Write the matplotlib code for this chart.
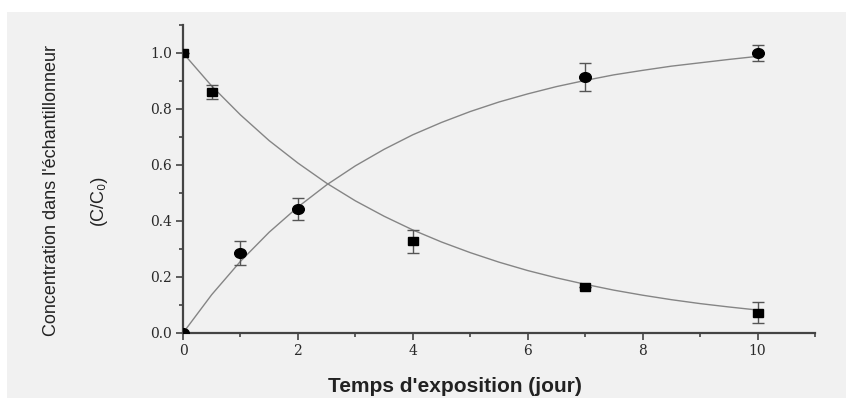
import matplotlib.pyplot as plt
from matplotlib.markers import MarkerStyle
from matplotlib.patches import Rectangle
from matplotlib.ticker import MultipleLocator
from matplotlib.transforms import Affine2D

# measured points (exposure time, C/C0, error)
t_sampler = [0, 1, 2, 7, 10]
c_sampler = [0.0, 0.286, 0.443, 0.916, 1.0]
e_sampler = [0.0, 0.042, 0.038, 0.05, 0.03]

t_source = [0, 0.5, 4, 7, 10]
c_source = [1.0, 0.861, 0.327, 0.166, 0.073]
e_source = [0.0, 0.024, 0.04, 0.0, 0.036]

# fitted curves
t_fit = [0, 0.5, 1, 1.5, 2, 2.5, 3, 3.5, 4, 4.5, 5, 5.5, 6, 6.5, 7,
         7.5, 8, 8.5, 9, 9.5, 10]
c_fit_up = [0.0, 0.137, 0.256, 0.360, 0.450, 0.529, 0.597, 0.656, 0.708,
            0.752, 0.791, 0.825, 0.854, 0.880, 0.902, 0.922, 0.938, 0.953,
            0.965, 0.977, 0.988]
c_fit_down = [1.0, 0.882, 0.779, 0.687, 0.607, 0.535, 0.472, 0.417, 0.368,
              0.325, 0.287, 0.253, 0.223, 0.197, 0.174, 0.153, 0.135, 0.119,
              0.105, 0.093, 0.082]

bg = '#f1f1f1'
fig = plt.figure(figsize=(8.46, 4.0), dpi=100, facecolor='white')
fig.patches.append(Rectangle((7 / 846, 2 / 400), 1, 1 - 14 / 400, transform=fig.transFigure,
                             facecolor=bg, edgecolor='none', zorder=-10))
ax = fig.add_axes([183 / 846, 1 - 333 / 400, (815 - 183) / 846, (333 - 25) / 400])
ax.set_facecolor(bg)

ax.plot(t_fit, c_fit_up, color='#858585', lw=1.0, zorder=2)
ax.plot(t_fit, c_fit_down, color='#858585', lw=1.0, zorder=2)

# markers a little wider than tall, as in the original
wide = Affine2D().scale(1.2, 1.0)
ax.errorbar(t_sampler, c_sampler, yerr=e_sampler, fmt='none', ecolor='#555555',
            elinewidth=1.0, capsize=4, capthick=1.0, zorder=3)
ax.plot(t_sampler, c_sampler, ls='none', color='black', ms=7,
        marker=MarkerStyle('o', transform=wide), zorder=4)
ax.errorbar(t_source, c_source, yerr=e_source, fmt='none', ecolor='#555555',
            elinewidth=1.0, capsize=4, capthick=1.0, zorder=3)
ax.plot(t_source, c_source, ls='none', color='black', ms=6,
        marker=MarkerStyle('s', transform=wide), zorder=4)

ax.set_xlim(0, 11)
ax.set_ylim(0, 1.1)
ax.xaxis.set_major_locator(MultipleLocator(2))
ax.xaxis.set_minor_locator(MultipleLocator(1))
ax.yaxis.set_major_locator(MultipleLocator(0.2))
ax.yaxis.set_minor_locator(MultipleLocator(0.1))
ax.yaxis.set_major_formatter(plt.FuncFormatter(lambda v, p: f'{v:.1f}'))

for side in ['top', 'right']:
    ax.spines[side].set_visible(False)
for side in ['left', 'bottom']:
    ax.spines[side].set_color('#444444')
    ax.spines[side].set_linewidth(1.6)

ax.tick_params(which='major', direction='out', length=5, width=1.2, color='#444444',
               labelsize=10, labelcolor='#2a2a2a', pad=3)
ax.tick_params(which='minor', direction='out', length=3, width=1.2, color='#444444')
for lab in ax.get_xticklabels() + ax.get_yticklabels():
    lab.set_family('DejaVu Serif')

fig.text(455 / 846, 1 - 387 / 400, "Temps d'exposition (jour)", ha='center', va='center',
         fontsize=15, fontweight='bold', family='Liberation Sans', color='#222222')
fig.text(52 / 846, 1 - 190 / 400, "Concentration dans l'échantillonneur", rotation=90,
         ha='center', va='center', fontsize=13, family='Liberation Sans',
         color='#222222')
fig.text(98 / 846, 1 - 200 / 400, "(C/C₀)", rotation=90, ha='center', va='center',
         fontsize=13, family=['Liberation Sans', 'DejaVu Sans'], color='#222222')

fig.savefig('out.png', dpi=100, facecolor=fig.get_facecolor())
